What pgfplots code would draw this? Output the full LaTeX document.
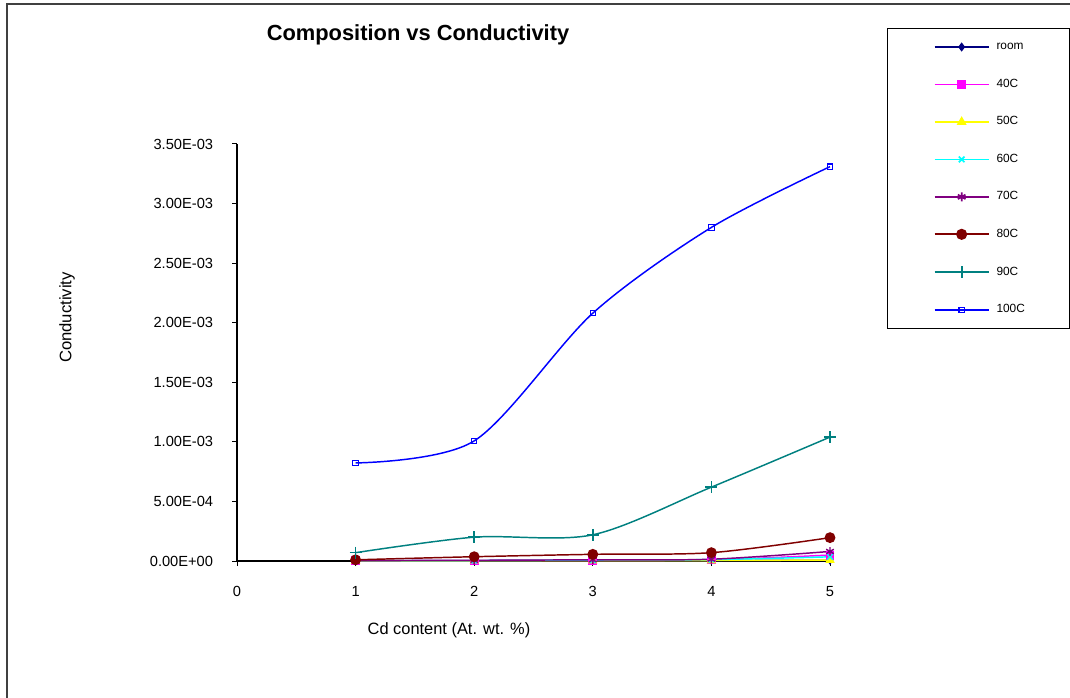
\documentclass[border=0pt]{standalone}
\usepackage{fontspec}
\setmainfont{Liberation Sans}
\usepackage{pgfplots}
\pgfplotsset{compat=1.18}
\definecolor{cRoom}{HTML}{000080}
\definecolor{c40}{HTML}{FF00FF}
\definecolor{c50}{HTML}{FFFF00}
\definecolor{c60}{HTML}{00FFFF}
\definecolor{c70}{HTML}{800080}
\definecolor{c80}{HTML}{800000}
\definecolor{c90}{HTML}{008080}
\definecolor{c100}{HTML}{0000FF}
\begin{document}
\begin{tikzpicture}[x=1pt,y=1pt]
\useasboundingbox (0,0) rectangle (802.5,522.75);
\draw[line width=1.3pt, black!75] (5.25,-5) -- (5.25,519.75) -- (810,519.75);
\begin{axis}[
  at={(177.75pt,102pt)}, anchor=south west,
  scale only axis, width=444.75pt, height=312.75pt,
  xmin=0, xmax=5, ymin=0, ymax=0.0035,
  axis lines*=left,
  axis line style={line width=1pt, black},
  xtick={0,1,2,3,4,5}, xticklabels={0,1,2,3,4,5},
  ytick={0,0.0005,0.001,0.0015,0.002,0.0025,0.003,0.0035},
  yticklabels={0.00E+00,5.00E-04,1.00E-03,1.50E-03,2.00E-03,2.50E-03,3.00E-03,3.50E-03},
  scaled y ticks=false,
  tick align=outside, major tick length=3.75pt,
  tick style={black, line width=0.75pt},
  ticklabel style={font=\fontsize{11}{12}\selectfont, inner sep=0pt},
  yticklabel style={anchor=east, xshift=-14pt},
  xticklabel style={anchor=north, yshift=-15pt},
  clip=false,
  legend cell align=left,
  legend style={at={(1.0961,1.2782)}, anchor=north west, draw=black, line width=1pt,
    inner xsep=0pt, inner ysep=9.5pt, row sep=19.6pt,
    nodes={inner sep=0pt, text height=6.5pt, text depth=2pt, font=\fontsize{8.9}{9}\selectfont},
    /tikz/every odd column/.append style={column sep=5.25pt}},
  legend image code/.code={\path[draw=none,fill=none] (-35.25pt,0pt) -- (40.5pt,0pt);
    \draw[line width=1.3pt, mark repeat=2,mark phase=2] plot coordinates {(0pt,0pt) (20.25pt,0pt) (40.5pt,0pt)};},
]
\addplot[color=cRoom, line width=1.1pt, smooth, mark=diamond*, mark size=2.4pt, mark options={solid}]
  coordinates {(1,0.000001) (2,0.000002) (3,0.000003) (4,0.000004) (5,0.000005)};
\addlegendentry{\makebox[54.75pt][l]{room}}
\addplot[color=c40, line width=1.1pt, smooth, mark=square*, mark size=2.8pt, mark options={solid}]
  coordinates {(1,0.000002) (2,0.000004) (3,0.000006) (4,0.000010) (5,0.000050)};
\addlegendentry{\makebox[54.75pt][l]{40C}}
\addplot[color=c50, line width=1.1pt, smooth, mark=triangle*, mark size=3pt, mark options={solid}]
  coordinates {(1,0.000001) (2,0.000002) (3,0.000003) (4,0.000004) (5,0.000008)};
\addlegendentry{\makebox[54.75pt][l]{50C}}
\addplot[color=c60, line width=1.1pt, smooth, mark=x, mark size=3pt, mark options={solid}]
  coordinates {(1,0.000002) (2,0.000004) (3,0.000008) (4,0.000012) (5,0.000035)};
\addlegendentry{\makebox[54.75pt][l]{60C}}
\addplot[color=c70, line width=1.1pt, smooth, mark=asterisk, mark size=3.3pt, mark options={solid}]
  coordinates {(1,0.000003) (2,0.000006) (3,0.000010) (4,0.000015) (5,0.000080)};
\addlegendentry{\makebox[54.75pt][l]{70C}}
\addplot[color=c80, line width=1.1pt, smooth, mark=*, mark size=3.5pt, mark options={solid}]
  coordinates {(1,0.000010) (2,0.000036) (3,0.000056) (4,0.000070) (5,0.000196)};
\addlegendentry{\makebox[54.75pt][l]{80C}}
\addplot[color=c90, line width=1.1pt, smooth, mark=+, mark size=4.5pt, mark options={solid}]
  coordinates {(1,0.000070) (2,0.000200) (3,0.000220) (4,0.000620) (5,0.001040)};
\addlegendentry{\makebox[54.75pt][l]{90C}}
\addplot[color=c100, line width=1.1pt, smooth, mark=square, mark size=2pt, mark options={solid, fill=white, line width=0.8pt}]
  coordinates {(1,0.000823) (2,0.001008) (3,0.002080) (4,0.002800) (5,0.003310)};
\addlegendentry{\makebox[54.75pt][l]{100C}}
\end{axis}
\node[font=\bfseries\fontsize{16.4}{18}\selectfont] at (313.5,496.5) {Composition vs Conductivity};
\node[rotate=90, font=\fontsize{12.5}{13}\selectfont] at (50.25,284.6) {Conductivity};
\node[font=\fontsize{12.3}{13}\selectfont] at (336.75,50.25) {Cd content (At. wt. \%)};
\end{tikzpicture}
\end{document}
